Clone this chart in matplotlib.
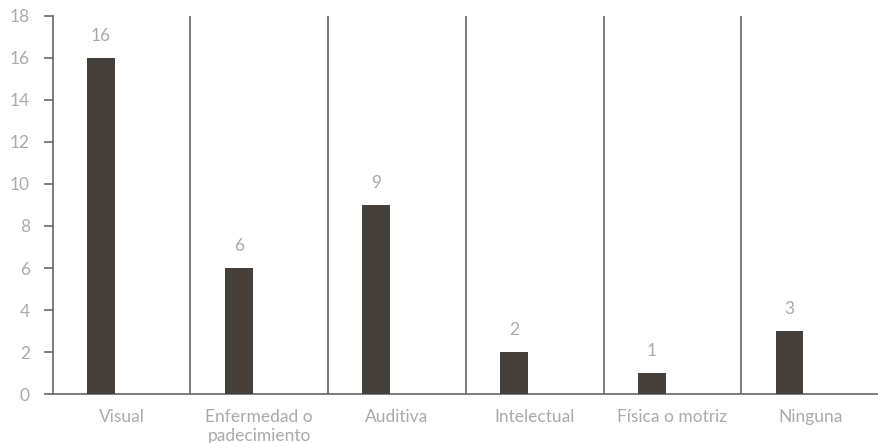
import matplotlib
matplotlib.use("Agg")
import matplotlib.pyplot as plt
import numpy as np

categories = ["Visual", "Enfermedad o\npadecimiento", "Auditiva", "Intelectual",
              "Física o motriz", "Ninguna"]
values = [16, 6, 9, 2, 1, 3]
yticks = [0, 2, 4, 6, 8, 10, 12, 14, 16, 18]

plt.rcParams["font.family"] = ["Lato", "DejaVu Sans"]

bar_color = "#45403c"
line_color = "#666666"
text_color = "#aaaaaa"

fig = plt.figure(figsize=(8.79, 4.43), dpi=100)
ax = fig.add_axes([0.060, 0.1106, 0.940, 0.8533])

x = np.arange(len(categories))
bars = ax.bar(x - 0.15, values, width=0.203, color=bar_color, zorder=3)

for rect, v in zip(bars, values):
    ax.annotate(str(v), (rect.get_x() + rect.get_width() / 2, v),
                xytext=(0, 10), textcoords="offset points",
                ha="center", va="bottom", fontsize=12.5, color=text_color)

# separators between categories
ax.vlines(x[1:] - 0.5, 0, 18, color=line_color, linewidth=1.2, zorder=2)

ax.set_xlim(-0.5, len(categories) - 0.5)
ax.set_ylim(0, 18)
ax.set_yticks(yticks)
ax.set_xticks(x)
ax.set_xticklabels(categories, fontsize=12.5, color=text_color, linespacing=1.2)
ax.tick_params(axis="x", length=0, pad=11)
ax.tick_params(axis="y", length=6.5, width=1.2, color=line_color,
               labelcolor=text_color, labelsize=12.5, pad=10)

for s in ["top", "right"]:
    ax.spines[s].set_visible(False)
for s in ["left", "bottom"]:
    ax.spines[s].set_color(line_color)
    ax.spines[s].set_linewidth(1.2)
ax.spines["bottom"].set_bounds(-0.5, len(categories) - 0.5)

fig.savefig("out.png", dpi=100)
